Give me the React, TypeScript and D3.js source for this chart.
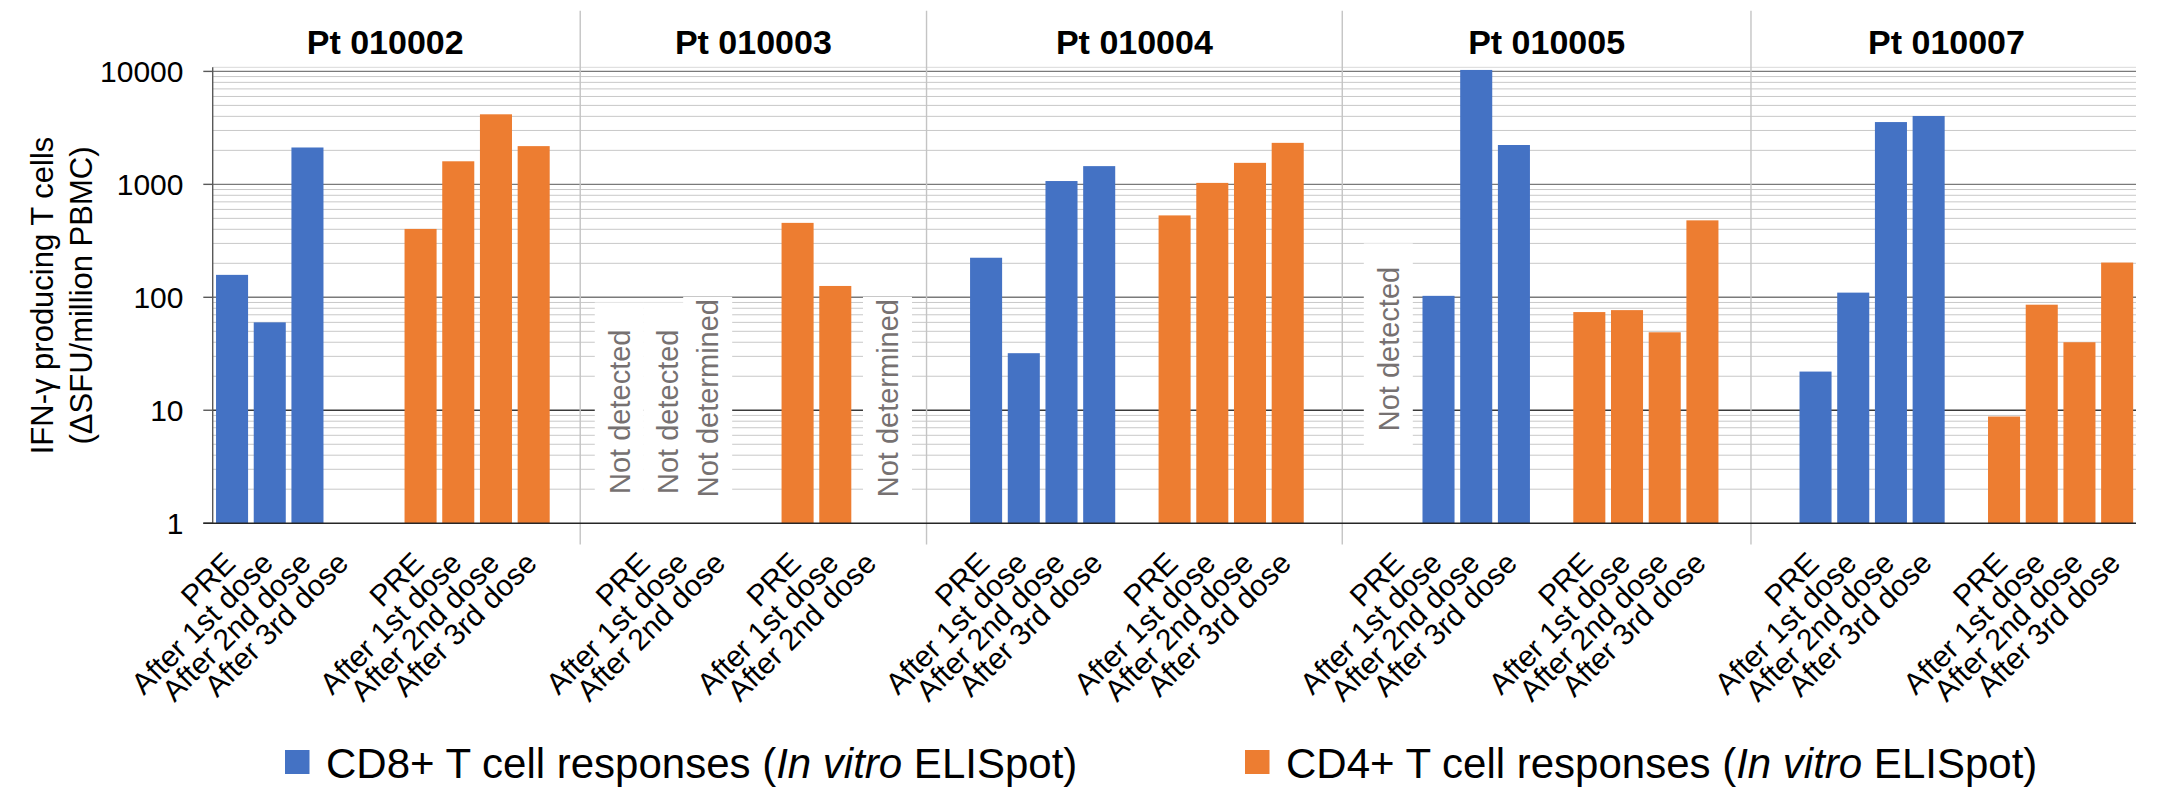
import * as d3 from "d3";

// chart values
const patients = ["Pt 010002", "Pt 010003", "Pt 010004", "Pt 010005", "Pt 010007"];
const visits = ["PRE", "After 1st dose", "After 2nd dose", "After 3rd dose"];
const visitCount = [4, 3, 4, 4, 4];
const cd8Values = [
  [158, 60, 2120, null],
  [null, null, null],
  [224, 32, 1070, 1450],
  [null, 103, 10300, 2230],
  [22, 110, 3560, 4030],
];
const cd4Values = [
  [403, 1600, 4170, 2180],
  [456, 126, null],
  [531, 1030, 1550, 2330],
  [74, 77, 49, 480],
  [8.8, 86, 40, 203],
];
const yTicks = [1, 10, 100, 1000, 10000];
const seriesNames = ["CD8+ T cell responses", "CD4+ T cell responses"];

// text boxes put over the empty slots
const notes = [
  { patient: 1, group: "cd8", visit: 0, text: "Not detected", dx: -17, mid: 9.7, top: 90, bottom: 1.6 },
  { patient: 1, group: "cd8", visit: 1, text: "Not detected", dx: -6, mid: 9.7, top: 90, bottom: 1.6 },
  { patient: 1, group: "cd8", visit: 2, text: "Not determined", dx: -4, mid: 12.8, top: 101, bottom: 1.6 },
  { patient: 1, group: "cd4", visit: 2, text: "Not determined", dx: 25, mid: 12.8, top: 101, bottom: 1.6 },
  { patient: 3, group: "cd8", visit: 0, text: "Not detected", dx: -2, mid: 34.8, top: 300, bottom: 4.8 },
];

const BLUE = "#4472C4";
const ORANGE = "#ED7D31";
const FONT = "'Liberation Sans', Arial, sans-serif";

type Slot = { kind: string; patient: number; visit: number; value: number | null };

function buildSlots(): Slot[] {
  const out: Slot[] = [];
  patients.forEach((_, p) => {
    if (p > 0) out.push({ kind: "empty", patient: p, visit: -1, value: null });
    for (let v = 0; v < visitCount[p]; v++) out.push({ kind: "cd8", patient: p, visit: v, value: cd8Values[p][v] });
    out.push({ kind: "empty", patient: p, visit: -1, value: null });
    for (let v = 0; v < visitCount[p]; v++) out.push({ kind: "cd4", patient: p, visit: v, value: cd4Values[p][v] });
    if (p < patients.length - 1) out.push({ kind: "empty", patient: p, visit: -1, value: null });
  });
  return out;
}

export default function App() {
  const W = 2163, H = 811;
  const slots = buildSlots();

  const x = d3.scaleBand<number>()
    .domain(d3.range(slots.length))
    .range([213.2, 2136])
    .paddingInner(0.15)
    .paddingOuter(0.075);
  const y = d3.scaleLog().domain([1, 10000]).range([523.2, 71.4]);

  const center = (i: number) => (x(i) as number) + x.bandwidth() / 2;
  const step = x.step();

  // panel separators sit between the trailing and the leading empty slot
  const sepNudge = [-10, -3, -2, -8];
  const sepX: number[] = [];
  slots.forEach((s, i) => {
    if (i > 0 && s.patient !== slots[i - 1].patient) sepX.push(center(i) - step / 2 + sepNudge[sepX.length]);
  });
  const edges = [x.range()[0] - 23, ...sepX, x.range()[1] + 6];

  const x0 = x.range()[0] - 0.5, x1 = x.range()[1];

  const minor: number[] = [];
  for (let d = 1; d < 10000; d *= 10) for (let k = 2; k <= 9; k++) minor.push(d * k);

  const slotIndex = (p: number, group: string, v: number) =>
    slots.findIndex(s => s.patient === p && s.kind === group && s.visit === v);

  return (
    <svg width={W} height={H} style={{ position: "absolute", left: 0, top: 0, background: "#fff" }}
      fontFamily={FONT}>
      {/* gridlines */}
      <line x1={x0} x2={x1} y1={67.3} y2={67.3} stroke="#d9d9d9" strokeWidth={1} />
      {minor.map(v => (
        <line key={"m" + v} x1={x0} x2={x1} y1={y(v)} y2={y(v)} stroke="#c8c8c8" strokeWidth={1} />
      ))}
      {yTicks.slice(1).map(v => (
        <line key={"g" + v} x1={x0} x2={x1} y1={y(v)} y2={y(v)}
          stroke={v === 10 ? "#3a3a3a" : "#7a7a7a"} strokeWidth={1.4} />
      ))}

      {/* annotation boxes */}
      {notes.map((n, i) => {
        const cx = center(slotIndex(n.patient, n.group, n.visit)) + n.dx;
        return (
          <rect key={"b" + i} x={cx - 21 - 14} y={y(n.top)} width={21 + 28}
            height={y(n.bottom) - y(n.top)} fill="#fff" />
        );
      })}
      {notes.map((n, i) => {
        const cx = center(slotIndex(n.patient, n.group, n.visit)) + n.dx;
        return (
          <text key={"n" + i} transform={`translate(${cx},${y(n.mid)}) rotate(-90)`}
            textAnchor="middle" fontSize={29} fill="#767171">{n.text}</text>
        );
      })}

      {/* bars */}
      {slots.map((s, i) => s.value == null ? null : (
        <rect key={"r" + i} x={x(i)} y={y(s.value)} width={x.bandwidth()}
          height={y(1) - y(s.value)} fill={s.kind === "cd8" ? BLUE : ORANGE} />
      ))}

      {/* panel separators */}
      {sepX.map((sx, i) => (
        <line key={"s" + i} x1={sx} x2={sx} y1={10.7} y2={544.6} stroke="#c4c4c4" strokeWidth={1.4} />
      ))}

      {/* axes */}
      <line x1={212.7} x2={212.7} y1={67.3} y2={y(1)} stroke="#595959" strokeWidth={1.4} />
      {yTicks.map(v => (
        <g key={"t" + v}>
          <line x1={203.3} x2={212.7} y1={y(v)} y2={y(v)} stroke="#595959" strokeWidth={1.4} />
          <text x={183.5} y={y(v)} dy="0.35em" textAnchor="end" fontSize={30} fill="#000">{v}</text>
        </g>
      ))}
      <line x1={203.3} x2={x1} y1={y(1)} y2={y(1)} stroke="#262626" strokeWidth={1.5} />

      {/* category labels */}
      {slots.map((s, i) => s.kind === "empty" ? null : (
        <text key={"l" + i} transform={`translate(${center(i) + 5},565) rotate(-45)`}
          textAnchor="end" fontSize={30} fill="#000">{visits[s.visit]}</text>
      ))}

      {/* panel titles */}
      {patients.map((p, i) => (
        <text key={"h" + i} x={(edges[i] + edges[i + 1]) / 2} y={53.5} textAnchor="middle"
          fontSize={34} fontWeight="bold" fill="#000">{p}</text>
      ))}

      {/* y axis title */}
      <text transform="translate(53.2,295.5) rotate(-90)" textAnchor="middle" fontSize={31} fill="#000">
        IFN-γ producing T cells
      </text>
      <text transform="translate(91.6,295.5) rotate(-90)" textAnchor="middle" fontSize={31} fill="#000">
        (ΔSFU/million PBMC)
      </text>

      {/* legend */}
      {seriesNames.map((name, i) => {
        const lx = i === 0 ? 285 : 1245;
        return (
          <g key={"lg" + i}>
            <rect x={lx} y={750} width={24.5} height={24} fill={i === 0 ? BLUE : ORANGE} />
            <text x={lx + 41} y={778} fontSize={42} fill="#000">
              {name} (<tspan fontStyle="italic">In vitro</tspan> ELISpot)
            </text>
          </g>
        );
      })}
    </svg>
  );
}
